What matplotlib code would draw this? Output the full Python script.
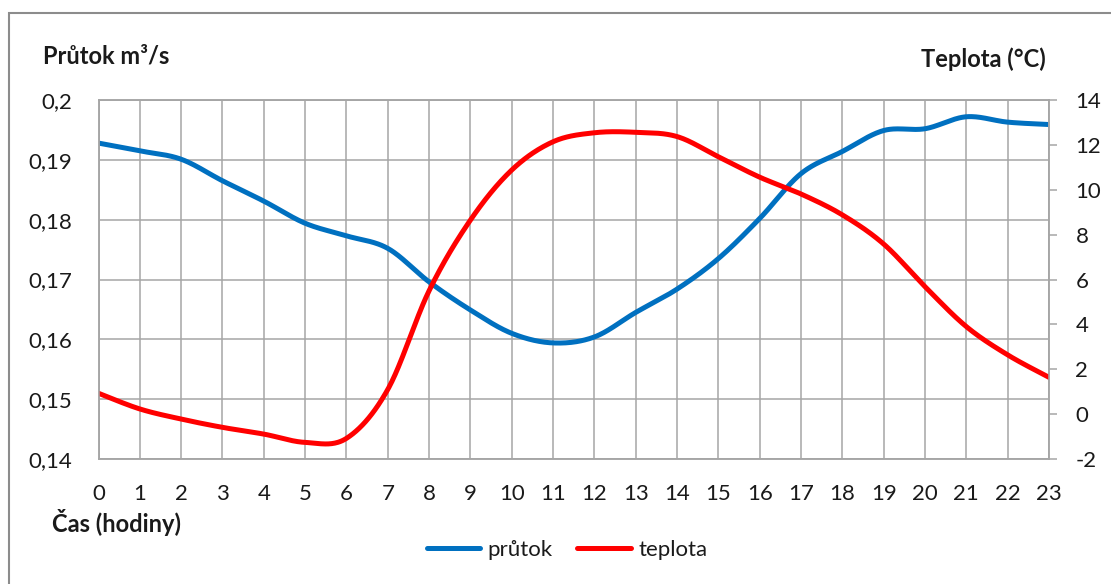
import numpy as np
import matplotlib
matplotlib.use("Agg")
import matplotlib.pyplot as plt
from matplotlib.ticker import FuncFormatter, MultipleLocator
from matplotlib.patches import Rectangle

# Hourly data
hours = list(range(24))
prutok = [0.1928, 0.1915, 0.1901, 0.1865, 0.1831, 0.1794, 0.1773, 0.1752,
          0.1696, 0.1649, 0.1610, 0.1594, 0.1604, 0.1645, 0.1684, 0.1735,
          0.1802, 0.1877, 0.1914, 0.1949, 0.1952, 0.1972, 0.1963, 0.1959]
teplota = [0.93, 0.23, -0.22, -0.59, -0.89, -1.26, -1.08, 1.1,
           5.5, 8.65, 10.88, 12.14, 12.54, 12.56, 12.37, 11.47,
           10.56, 9.81, 8.88, 7.58, 5.68, 3.9, 2.64, 1.64]

left_label = "Průtok m³/s"
right_label = "Teplota (°C)"
x_label = "Čas (hodiny)"
series_names = ["průtok", "teplota"]

BLUE = "#0070C0"
RED = "#FF0000"
GRID = "#a6a6a6"
TEXT = "#1a1a1a"
FONT = ["Lato", "DejaVu Sans"]
TICK_SIZE = 16
LABEL_SIZE = 17

plt.rcParams["font.family"] = FONT


def smooth(x, y, n=40):
    """Bezier smoothing through every point (control points from neighbours)."""
    x = np.asarray(x, float)
    y = np.asarray(y, float)
    px = np.concatenate([[x[0]], x, [x[-1]]])
    py = np.concatenate([[y[0]], y, [y[-1]]])
    xs, ys = [], []
    t = np.linspace(0, 1, n)
    for i in range(1, len(px) - 2):
        p0 = np.array([px[i], py[i]])
        p3 = np.array([px[i + 1], py[i + 1]])
        p1 = p0 + (np.array([px[i + 1], py[i + 1]]) - np.array([px[i - 1], py[i - 1]])) / 6
        p2 = p3 - (np.array([px[i + 2], py[i + 2]]) - np.array([px[i], py[i]])) / 6
        b = ((1 - t) ** 3)[:, None] * p0 + (3 * (1 - t) ** 2 * t)[:, None] * p1 \
            + (3 * (1 - t) * t ** 2)[:, None] * p2 + (t ** 3)[:, None] * p3
        xs.append(b[:, 0])
        ys.append(b[:, 1])
    return np.concatenate(xs), np.concatenate(ys)


fig = plt.figure(figsize=(11.11, 5.84), dpi=100)
# chart frame, open past the right and bottom edges
fig.patches.append(Rectangle((9 / 1111, -10 / 584), 1120 / 1111, (584 - 13 + 10) / 584,
                             transform=fig.transFigure, fill=False,
                             edgecolor="#8c8c8c", linewidth=1.5))

ax = fig.add_axes([98.5 / 1111, 1 - 459 / 584, (1049 - 98.5) / 1111, 359 / 584])
ax2 = ax.twinx()

ax.set_xlim(0, 23)
ax.set_ylim(0.14, 0.2)
ax2.set_ylim(-2, 14)

sx, sy = smooth(hours, prutok)
l1, = ax.plot(sx, sy, color=BLUE, linewidth=3.6, solid_capstyle="round")
tx, ty = smooth(hours, teplota)
l2, = ax2.plot(tx, ty, color=RED, linewidth=3.6, solid_capstyle="round")

ax.xaxis.set_major_locator(MultipleLocator(1))
ax.yaxis.set_major_locator(MultipleLocator(0.01))
ax2.yaxis.set_major_locator(MultipleLocator(2))
ax.grid(True, color=GRID, linewidth=1.1)
ax.set_axisbelow(True)

ax.yaxis.set_major_formatter(FuncFormatter(
    lambda v, p: (f"{v:.2f}".rstrip("0")).replace(".", ",")))
ax2.yaxis.set_major_formatter(FuncFormatter(lambda v, p: f"{v:g}"))

for a in (ax, ax2):
    for s in a.spines.values():
        s.set_color(GRID)
        s.set_linewidth(1.1)

ax.tick_params(axis="x", length=0, pad=18, labelsize=TICK_SIZE, colors=TEXT)
ax.tick_params(axis="y", length=0, pad=19, labelsize=TICK_SIZE, colors=TEXT)
ax2.tick_params(axis="y", length=6, width=1.1, color=GRID, pad=13,
                labelsize=TICK_SIZE, labelcolor=TEXT)

fig.text(43 / 1111, 1 - 56 / 584, left_label, fontsize=LABEL_SIZE, fontweight="bold",
         ha="left", va="center", color=TEXT)
fig.text(1046 / 1111, 1 - 59 / 584, right_label, fontsize=LABEL_SIZE, fontweight="bold",
         ha="right", va="center", color=TEXT)
fig.text(52 / 1111, 1 - 523 / 584, x_label, fontsize=LABEL_SIZE, fontweight="bold",
         ha="left", va="center", color=TEXT)

leg = fig.legend([l1, l2], series_names, loc="center",
                 bbox_to_anchor=(567 / 1111, 1 - 550 / 584),
                 ncol=2, frameon=False, fontsize=TICK_SIZE, handlelength=2.4,
                 handletextpad=0.35, columnspacing=1.1)
for t in leg.get_texts():
    t.set_color(TEXT)

fig.savefig("out.png", dpi=100)
